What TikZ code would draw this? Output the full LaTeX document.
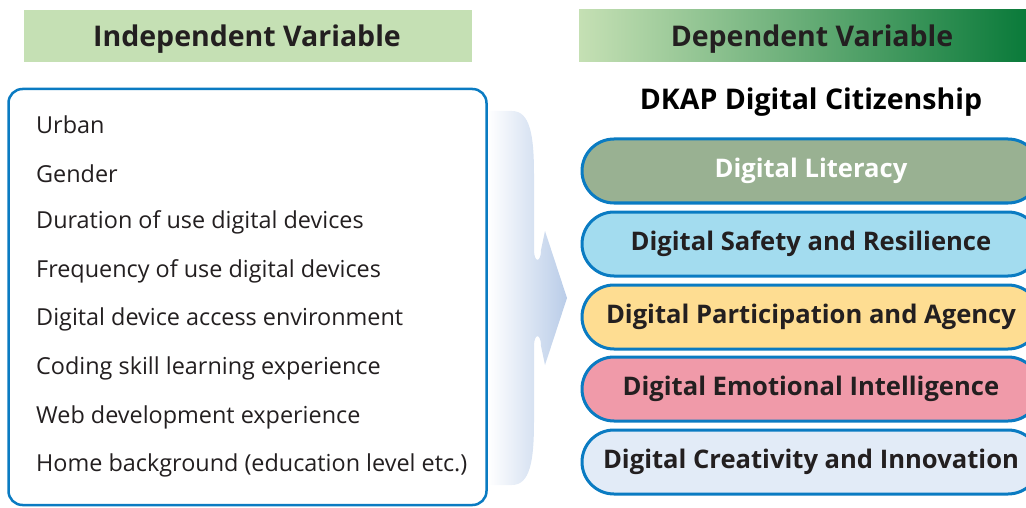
\documentclass[tikz,border=0pt]{standalone}
\usepackage{fontspec}
\setmainfont{Open Sans}
\usetikzlibrary{shapes.misc,positioning}
\definecolor{edgeblue}{HTML}{0A7BC2}
\definecolor{inkgray}{HTML}{231F20}
\definecolor{headlight}{HTML}{C5E0B4}
\definecolor{headdark}{HTML}{0A7A3A}
\definecolor{flowblue}{HTML}{B9CCE8}
\definecolor{litfill}{HTML}{99B192}
\definecolor{safefill}{HTML}{A3DCEF}
\definecolor{partfill}{HTML}{FEDD92}
\definecolor{emofill}{HTML}{F09AA9}
\definecolor{creafill}{HTML}{E2EBF7}

\tikzset{
  head/.style={inner sep=0pt, font=\fontsize{28.5}{32}\selectfont\bfseries, text=inkgray},
  item/.style={anchor=west, inner sep=0pt,
    font=\fontsize{23.4}{27}\selectfont, text=inkgray},
  pill/.style={rounded rectangle, draw=edgeblue, line width=3pt,
    minimum width=458pt, minimum height=64pt, inner sep=0pt,
    font=\fontsize{25.6}{29}\selectfont\bfseries, text=inkgray}
}

\begin{document}
\begin{tikzpicture}[x=1pt, y=-1pt]
\clip (0,0) rectangle (1026,508);

% headers
\fill[headlight] (24,10) rectangle (472,62);
\shade[left color=headlight, right color=headdark] (579,10) rectangle (1026,62);
\node[head] (ivhead) at (247,39) {Independent Variable};
\node[head] (dvhead) at (812,39) {Dependent Variable};

% flow arrow
\shade[left color=white, right color=flowblue]
  (488,111) -- (512,111) .. controls (530,111) and (534,135) .. (534,175)
  -- (534,250) .. controls (534,263) and (541,263) .. (541,250)
  -- (545,231) -- (567,298) -- (545,365)
  -- (541,346) .. controls (541,333) and (534,333) .. (534,346)
  -- (534,421) .. controls (534,461) and (530,485) .. (512,485)
  -- (488,485) -- cycle;

% independent variables
\node[draw=edgeblue, line width=2.5pt, rounded corners=14pt, fill=white,
  minimum width=478pt, minimum height=416pt] (ivbox) at (247.5,297) {};
\foreach \txt [count=\i] in {Urban, Gender, Duration of use digital devices,
    Frequency of use digital devices, Digital device access environment,
    Coding skill learning experience, Web development experience,
    Home background (education level etc.)}
  \node[item] (iv\i) at (36,{125+48.7*(\i-1)}) {\txt};

% dependent variables
\node[head, text=black] (dkap) at (811,102) {DKAP Digital Citizenship};
\node[pill, fill=litfill, text=white] (lit) at (811,171) {Digital Literacy};
\node[pill, fill=safefill] (safe) at (811,244) {Digital Safety and Resilience};
\node[pill, fill=partfill] (part) at (811,317) {Digital Participation and Agency};
\node[pill, fill=emofill] (emo) at (811,389) {Digital Emotional Intelligence};
\node[pill, fill=creafill] (crea) at (811,462) {Digital Creativity and Innovation};
\end{tikzpicture}
\end{document}
